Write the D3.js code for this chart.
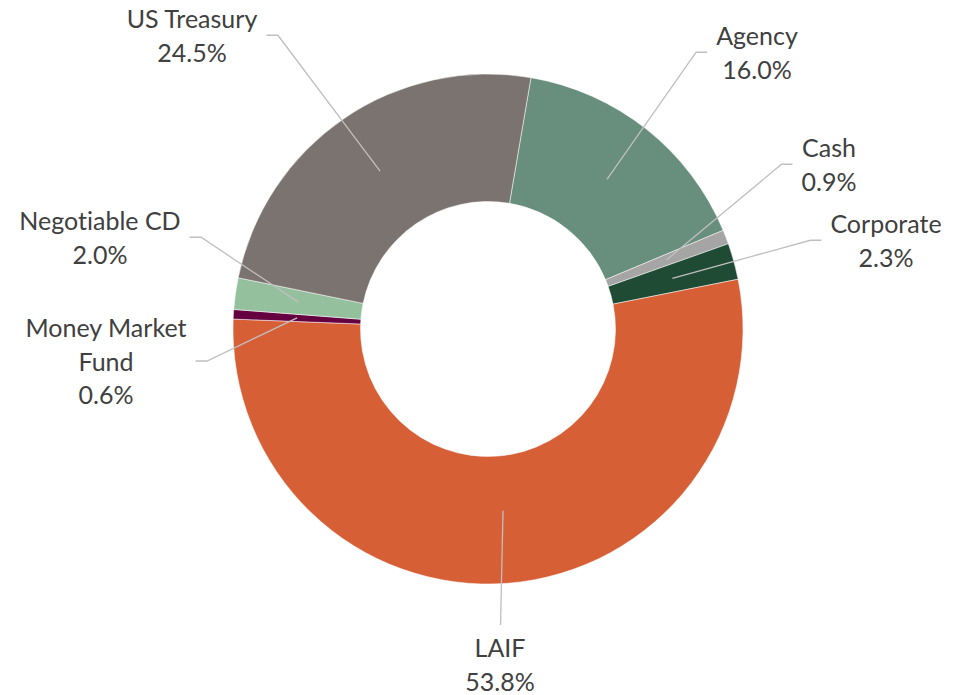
<!DOCTYPE html>
<html>
<head>
<meta charset="utf-8">
<script src="https://cdn.jsdelivr.net/npm/d3@7"></script>
<style>
	html, body { margin: 0; padding: 0; background: #fff; }
	svg { display: block; }
	.slice-label { font-family: Lato, "Open Sans", sans-serif; font-size: 25px; fill: #404040; font-variant-ligatures: none; }
</style>
</head>
<body>
<svg id="chart"></svg>
<script>
// Portfolio composition (percent of total)
const categories = ["Agency", "Cash", "Corporate", "LAIF", "Money Market Fund", "Negotiable CD", "US Treasury"];
const shares = [16.0, 0.9, 2.3, 53.8, 0.6, 2.0, 24.5];
const shareLabels = ["16.0%", "0.9%", "2.3%", "53.8%", "0.6%", "2.0%", "24.5%"];
const sliceColors = ["#688F7E", "#A5A5A5", "#1F4A34", "#D65F36", "#650041", "#94C09D", "#7B7370"];

// label block layout: centre x, first baseline y (Excel had these dragged around by hand)
const labelAnchors = [[757, 45], [829, 157], [886, 233], [500, 657], [106, 337], [100, 230], [192, 28]];
// category names that were wrapped onto two lines
const wrapped = { "Money Market Fund": ["Money Market", "Fund"] };

const width = 965;
const height = 695;
const cx = 488;
const cy = 329;
const outerR = 255;
const innerR = outerR * 0.5;
const startAngle = (9.7 * Math.PI) / 180;
const lineHeight = 33.5;

const svg = d3.select("#chart").attr("width", width).attr("height", height);
const g = svg.append("g").attr("transform", `translate(${cx},${cy})`);

const data = categories.map((name, i) => ({ name, value: shares[i], label: shareLabels[i], color: sliceColors[i], i }));

const pie = d3.pie()
	.sort(null)
	.value((d) => d.value)
	.startAngle(startAngle)
	.endAngle(startAngle + 2 * Math.PI);

const arc = d3.arc().innerRadius(innerR).outerRadius(outerR);
const arcs = pie(data);

g.selectAll("path.slice")
	.data(arcs)
	.enter()
	.append("path")
	.attr("class", "slice")
	.attr("d", arc)
	.attr("fill", (d) => d.data.color)
	.attr("stroke", "#fff")
	.attr("stroke-width", 0.5);

// labels
const labels = svg.selectAll("text.slice-label")
	.data(arcs)
	.enter()
	.append("text")
	.attr("class", "slice-label")
	.attr("text-anchor", "middle");

labels.each(function (d) {
	const [x, y] = labelAnchors[d.data.i];
	const lines = (wrapped[d.data.name] || [d.data.name]).concat([d.data.label]);
	const t = d3.select(this);
	lines.forEach((line, k) => {
		t.append("tspan").attr("x", x).attr("y", y + k * lineHeight).text(line);
	});
});

// leader lines from the middle of the ring to the label block
const leaders = svg.insert("g", "text.slice-label");
labels.each(function (d) {
	const [lx, ly] = labelAnchors[d.data.i];
	const nLines = (wrapped[d.data.name] || [d.data.name]).length + 1;
	const box = this.getBBox();
	const [px, py] = arc.centroid(d);
	const sx = cx + px;
	const sy = cy + py;
	let pts;
	if (box.y > sy + 40 && Math.abs(lx - sx) < 40) {
		// label below the ring: straight drop
		pts = [[sx, sy - 9], [sx - 2.5, ly - 32]];
	} else {
		const midY = ly + ((nLines - 1) * lineHeight) / 2 - 9.5;
		const right = lx < cx;
		const endX = right ? box.x + box.width + 9 : box.x - 9;
		const elbowX = right ? endX + 11.5 : endX - 11;
		pts = [[endX, midY], [elbowX, midY], [sx, sy]];
	}
	leaders.append("path")
		.attr("d", d3.line()(pts))
		.attr("fill", "none")
		.attr("stroke", "#BFBFBF")
		.attr("stroke-width", 1.3);
});
</script>
</body>
</html>
